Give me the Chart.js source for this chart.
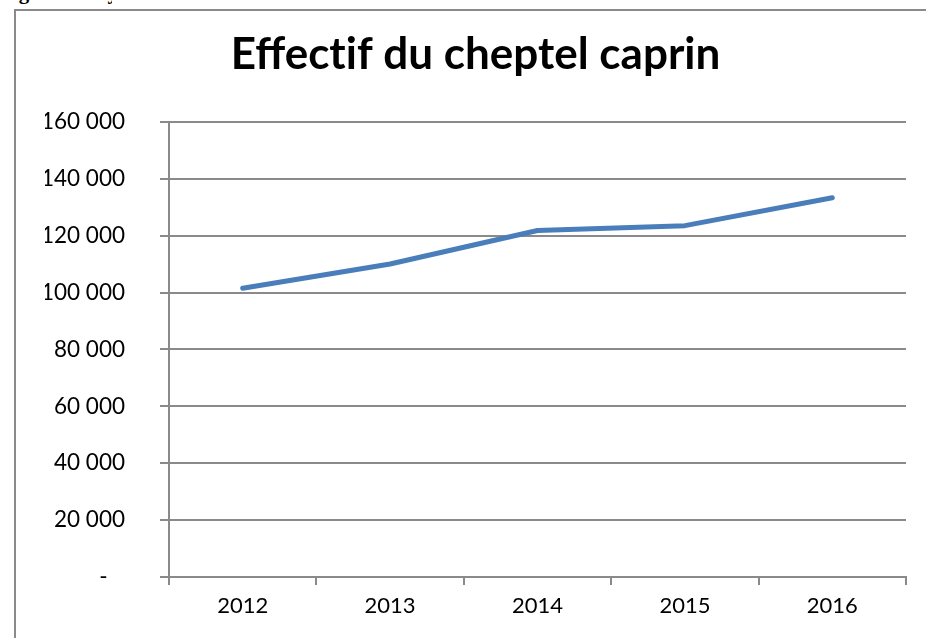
<!DOCTYPE html>
<html>
<head>
<meta charset="utf-8">
<script src="https://cdn.jsdelivr.net/npm/chart.js@4.4.1/dist/chart.umd.min.js"></script>
<style>
  html, body { margin: 0; padding: 0; width: 926px; height: 638px; overflow: hidden; background: #fff; }
  #caption { position: absolute; left: 0; top: -20px; width: 112px; overflow: hidden; font: bold 21px "Liberation Serif", serif; color: #000; white-space: nowrap; }
  #frame { position: absolute; left: 14px; top: 9px; width: 940px; height: 660px; border-left: 2px solid #8a8a8a; border-top: 2px solid #8a8a8a; }
  #wrap { position: absolute; left: 17px; top: 12px; width: 916px; height: 640px; }
</style>
</head>
<body>
<div id="caption">Figure 3 : Dynamique du cheptel caprin</div>
<div id="frame"></div>
<div id="wrap"><canvas id="goat-chart"></canvas></div>
<script>
const years = ['2012', '2013', '2014', '2015', '2016'];
const goats = [101500, 110000, 121800, 123500, 133300];
const yTicks = [0, 20000, 40000, 60000, 80000, 100000, 120000, 140000, 160000];

const fmt = v => v === 0 ? '-   ' : String(v).replace(/\B(?=(\d{3})+(?!\d))/g, ' ');

const goatCtx = document.getElementById('goat-chart').getContext('2d');
const goatChart = new Chart(goatCtx, {
  type: 'line',
  data: {
    labels: years,
    datasets: [{
      label: 'Effectif',
      data: goats,
      borderColor: '#4a7ebb',
      borderWidth: 5,
      borderCapStyle: 'round',
      borderJoinStyle: 'round',
      pointRadius: 0,
      tension: 0,
      fill: false
    }]
  },
  options: {
    responsive: true,
    maintainAspectRatio: false,
    animation: false,
    layout: {
      // left/right padding kept equal-ish so the title centres like the original
      padding: { left: 28, right: 27, top: 0, bottom: 0 }
    },
    scales: {
      x: {
        offset: true,
        grid: {
          offset: true,
          drawOnChartArea: false,
          drawTicks: true,
          tickLength: 8,
          color: '#8a8a8a',
          lineWidth: 2
        },
        border: { color: '#8a8a8a', width: 2 },
        ticks: {
          color: '#000',
          padding: 8,
          font: { family: 'Lato', size: 22 }
        },
        afterFit: s => { s.height = 75; }
      },
      y: {
        min: 0,
        max: 160000,
        afterBuildTicks: s => { s.ticks = yTicks.map(v => ({ value: v })); },
        grid: {
          color: '#8a8a8a',
          lineWidth: 2,
          tickLength: 9
        },
        border: { color: '#8a8a8a', width: 2 },
        ticks: {
          color: '#000',
          padding: 35,
          font: { family: 'Lato', size: 22.5 },
          callback: v => fmt(v)
        },
        afterFit: s => { s.width = 124; }
      }
    },
    plugins: {
      legend: { display: false },
      tooltip: { enabled: false },
      title: {
        display: true,
        text: 'Effect\u200Cif du cheptel caprin',
        color: '#000',
        font: { family: 'Lato', size: 44, weight: 'bold', lineHeight: 1.2 },
        padding: { top: 16, bottom: 41 }
      }
    }
  }
});
</script>
</body>
</html>
